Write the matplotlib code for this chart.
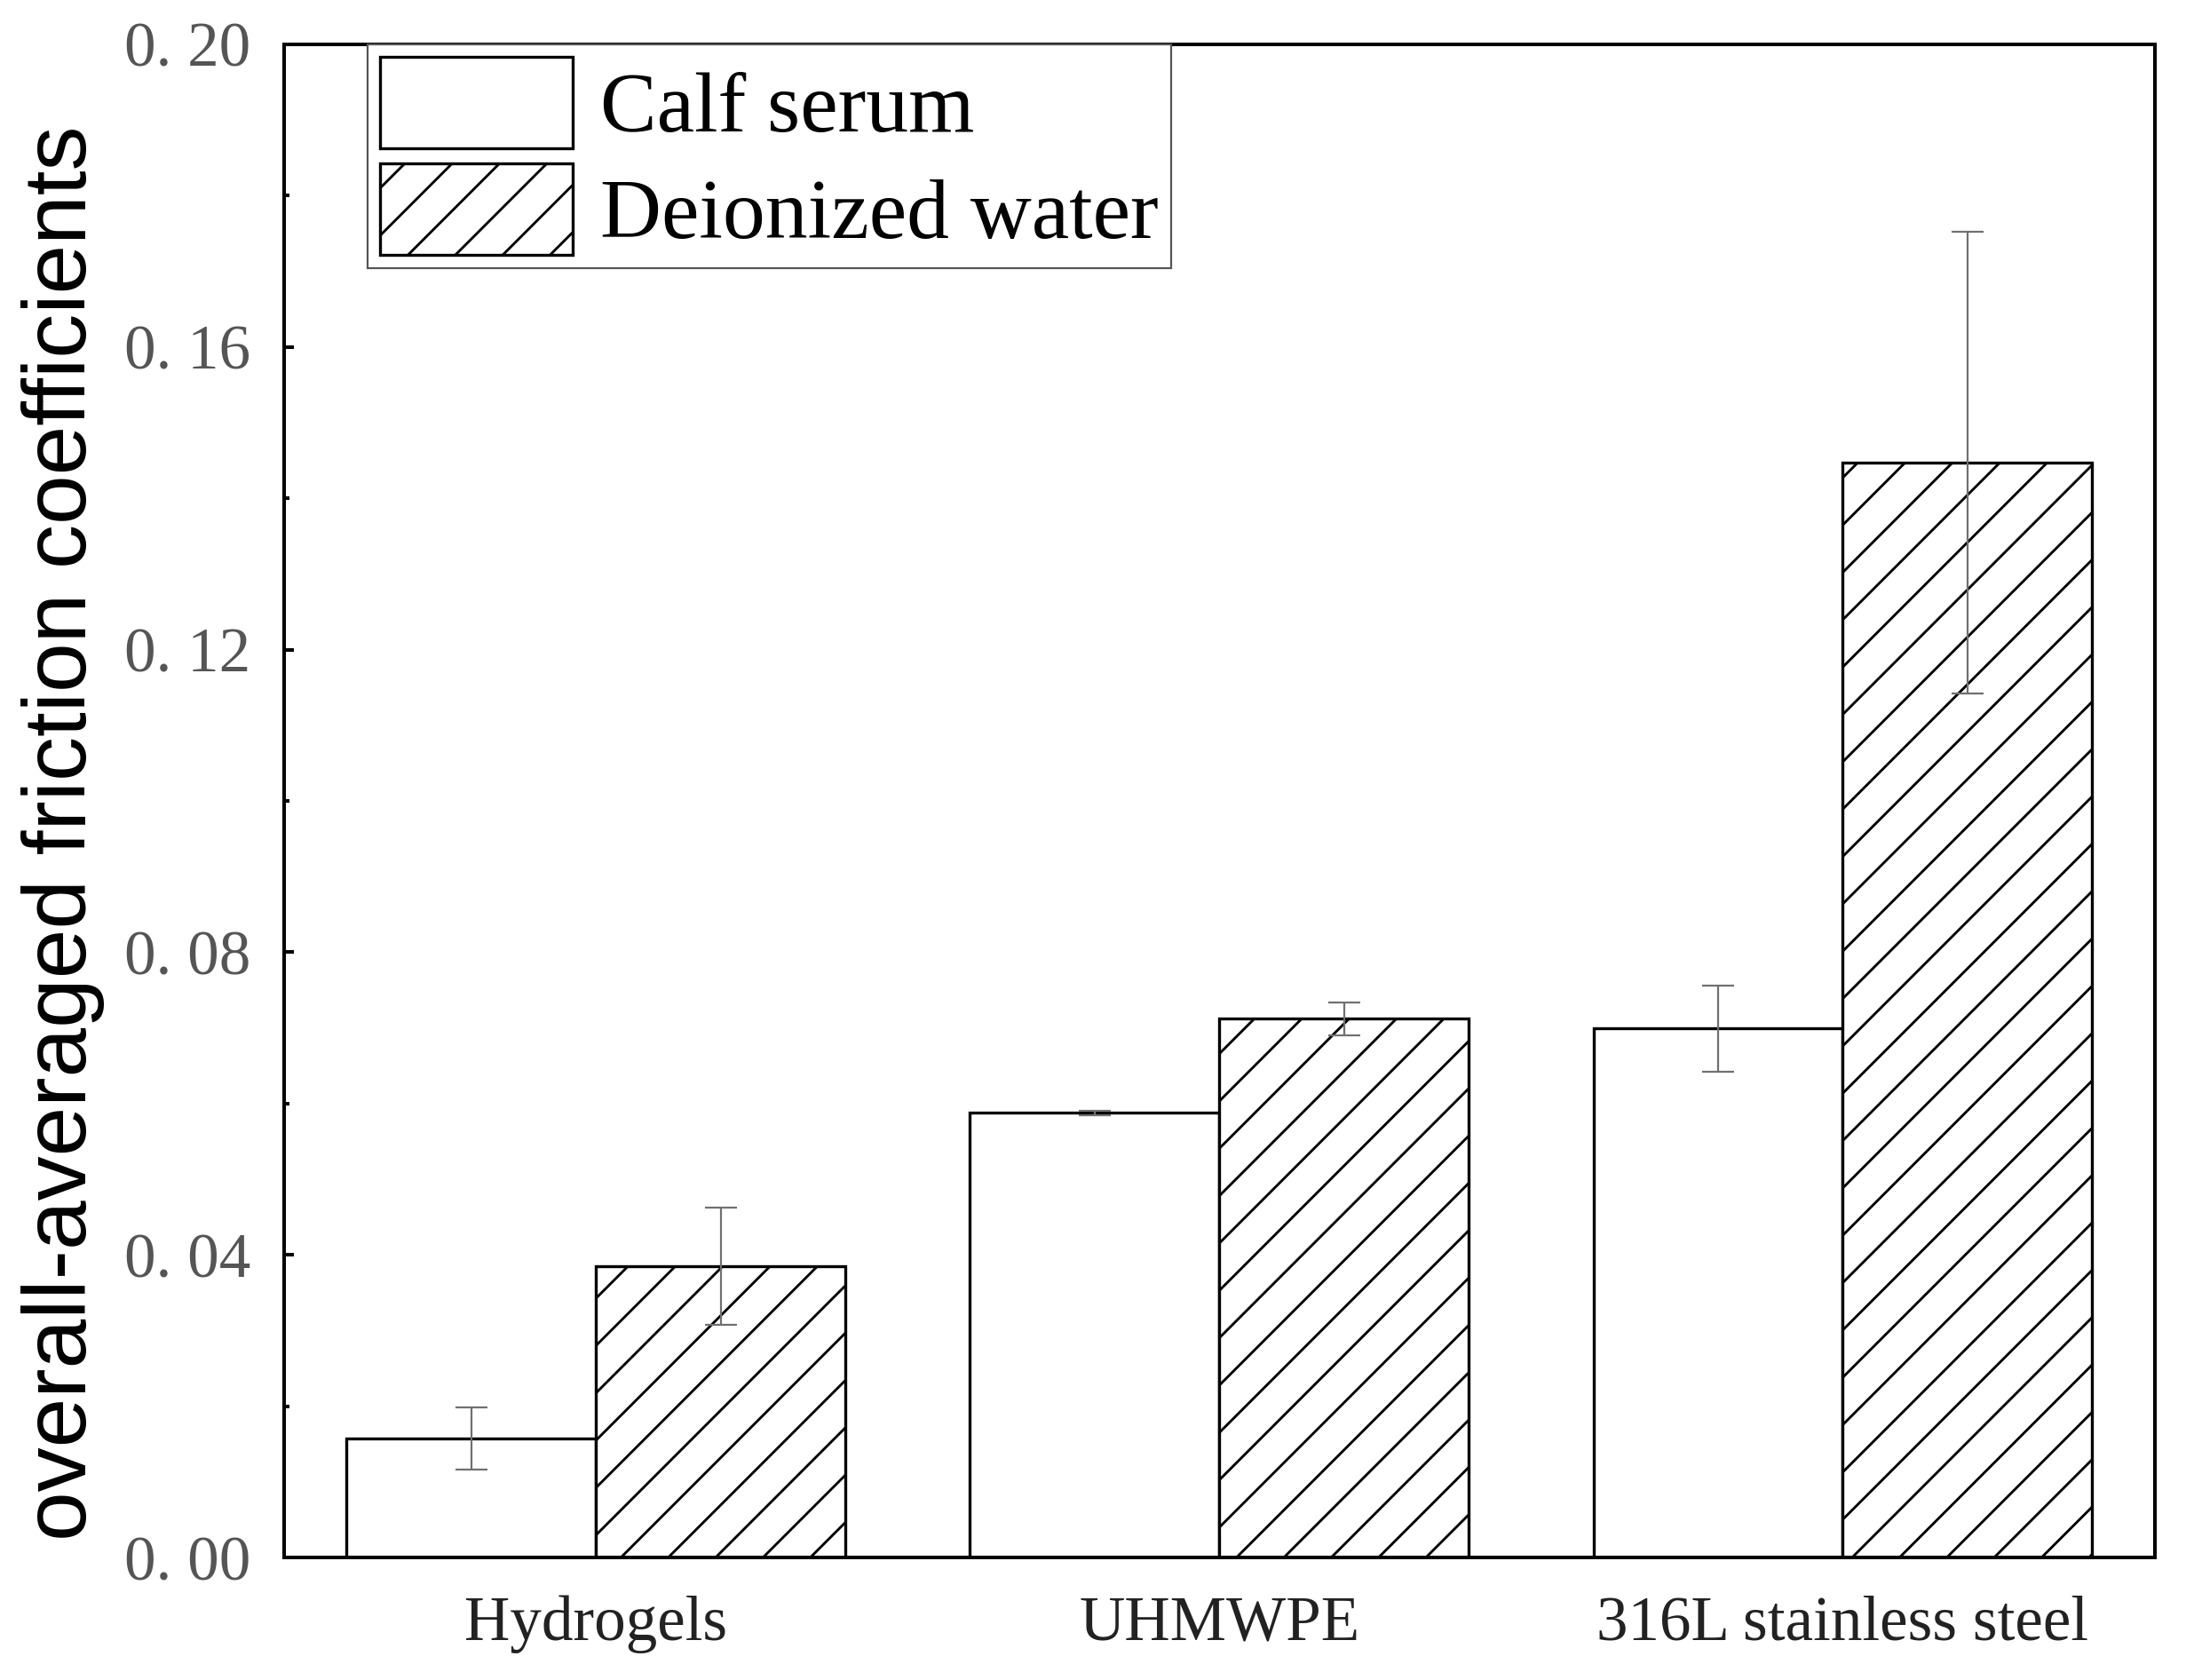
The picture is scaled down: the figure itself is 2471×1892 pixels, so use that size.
import numpy as np
import matplotlib
matplotlib.use("Agg")
import matplotlib.pyplot as plt
from matplotlib.ticker import FuncFormatter, MultipleLocator

# data
materials = ["Hydrogels", "UHMWPE", "316L stainless steel"]
series = ["Calf serum", "Deionized water"]
calf_mean = [0.0157, 0.0588, 0.0699]
calf_err = [0.0041, 0.0003, 0.0057]
water_mean = [0.0385, 0.0712, 0.1447]
water_err = [0.0078, 0.0022, 0.0305]
y_ticks = [0.00, 0.04, 0.08, 0.12, 0.16, 0.20]

DPI = 160
plt.rcParams["hatch.linewidth"] = 1.3
plt.rcParams["hatch.color"] = "black"

fig = plt.figure(figsize=(2471 / DPI, 1892 / DPI), dpi=DPI)
ax = fig.add_axes([0.1295, 0.0729, 0.8525, 0.9007])

x = np.arange(len(materials))
w = 0.4
ekw = dict(ecolor="#707070", elinewidth=1.0, capsize=8, capthick=1.0)

ax.bar(x - w / 2, calf_mean, w, yerr=calf_err, color="white",
       edgecolor="black", linewidth=1.5, label=series[0], error_kw=ekw, zorder=2)
ax.bar(x + w / 2, water_mean, w, yerr=water_err, color="white",
       edgecolor="black", linewidth=1.5, hatch="/", label=series[1],
       error_kw=ekw, zorder=2)

ax.set_xlim(-0.5, 2.5)
ax.set_ylim(0, 0.2)
ax.set_xticks(x)
ax.set_xticklabels(materials, family="Liberation Serif", fontsize=32, color="#222222")
ax.tick_params(axis="x", length=0, pad=19)

ax.set_yticks(y_ticks)
ax.yaxis.set_minor_locator(MultipleLocator(0.02))
ax.yaxis.set_major_formatter(FuncFormatter(lambda v, p: f"{v:.2f}".replace(".", ". ")))
ax.tick_params(axis="y", which="major", direction="in", length=5, width=1.8,
               pad=17, labelsize=32, labelcolor="#555555")
ax.tick_params(axis="y", which="minor", direction="in", length=2.5, width=1.8)
for lab in ax.get_yticklabels():
    lab.set_family("Liberation Serif")

for s in ax.spines.values():
    s.set_linewidth(1.8)

ax.set_ylabel("overall-averaged friction coefficients", family="Liberation Sans",
              fontsize=45, color="black", va="center")
ax.yaxis.set_label_coords(-0.118, 0.479)

leg = ax.legend(loc="upper left", bbox_to_anchor=(0.0446, 1.0), borderaxespad=0,
                prop={"family": "Liberation Serif", "size": 43},
                handlelength=2.27, handleheight=1.28, labelspacing=0.17,
                borderpad=0.15, handletextpad=0.32, fancybox=False,
                framealpha=1, edgecolor="#555555")
leg.get_frame().set_linewidth(1.0)
for t in leg.get_texts():
    t.set_color("black")

fig.savefig("out.png", dpi=DPI)
